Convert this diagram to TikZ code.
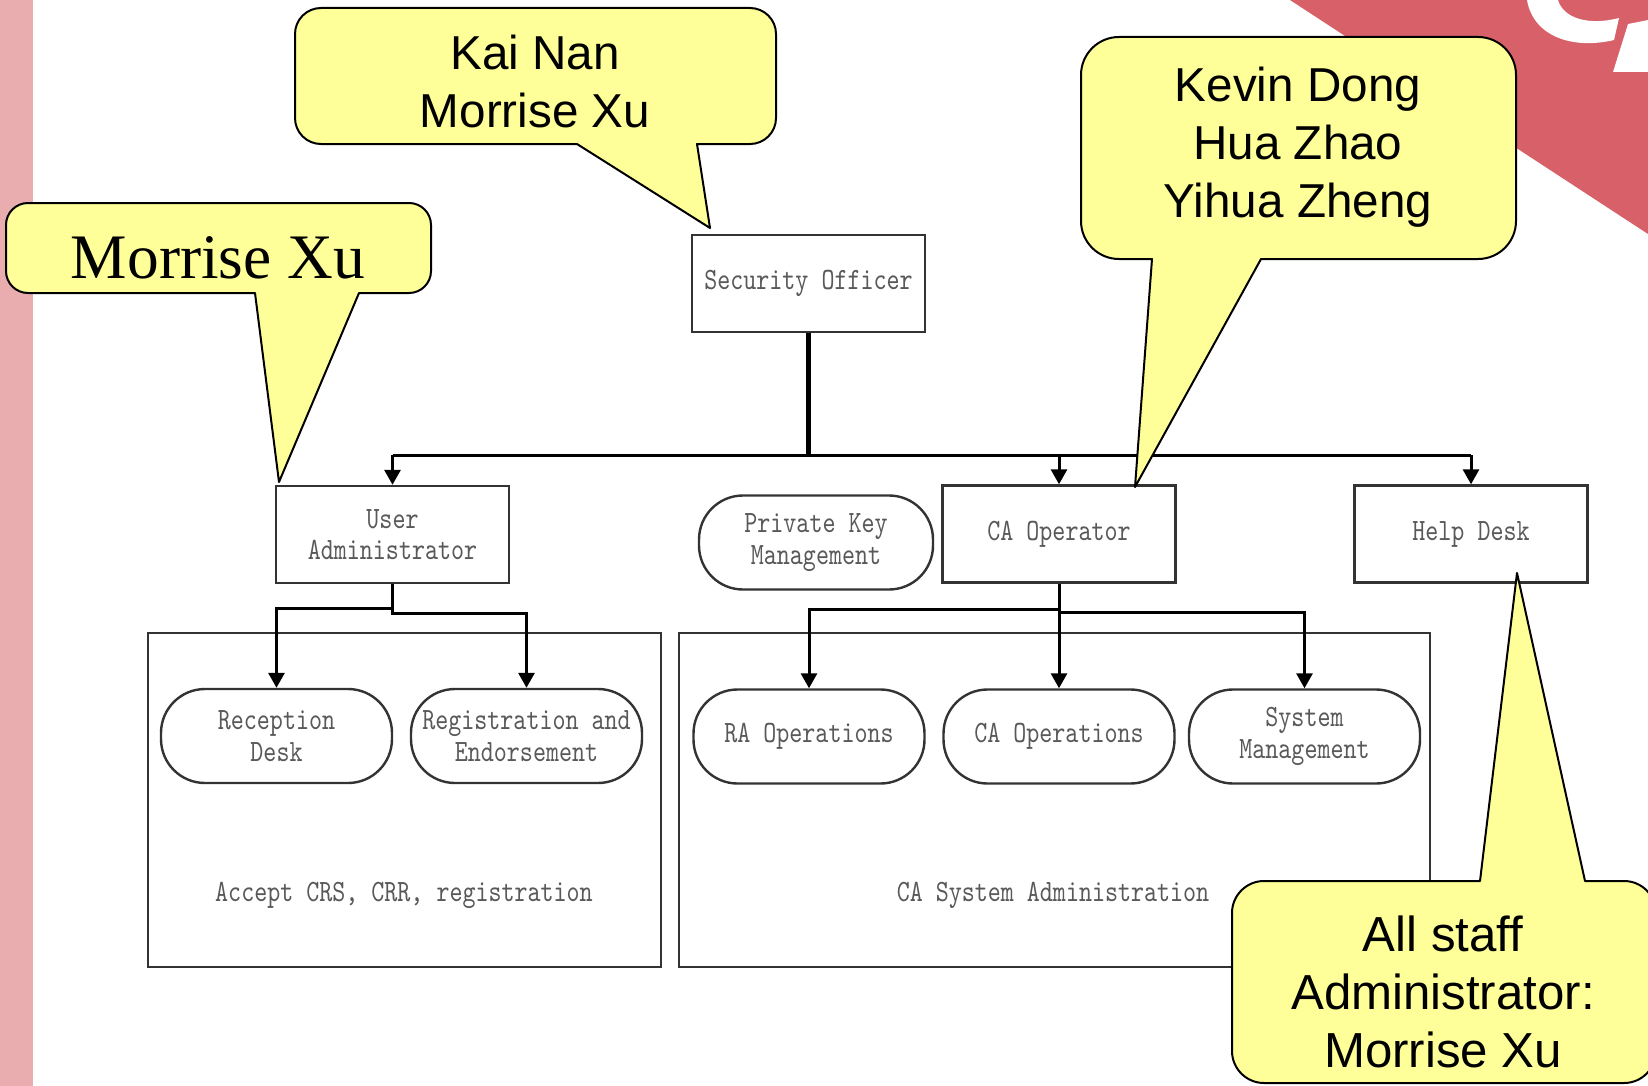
\documentclass[tikz,border=0pt]{standalone}
\usepackage{fontspec}
\newfontfamily\calloutfont{Liberation Sans}
\newfontfamily\romanfont{Liberation Serif}
\newfontfamily\boxfamily{lmmono10-regular.otf}[FakeStretch=0.8]
\usetikzlibrary{arrows.meta}
\definecolor{notefill}{RGB}{255,255,153}
\definecolor{bandred}{RGB}{216,96,104}
\definecolor{stripink}{RGB}{233,172,175}
\newcommand{\boxfont}{\boxfamily\fontsize{15.5}{15.8}\selectfont}
\tikzset{
  box/.style={draw=black!80, line width=1.2pt, inner sep=0pt, minimum width=116.5pt, minimum height=48.5pt, align=center, text=black!65, font=\boxfont},
  pill/.style={box, rounded corners=22pt, minimum width=115.5pt, minimum height=47pt},
  panel/.style={draw=black!80, line width=1.1pt, inner sep=0pt, minimum width=#1, minimum height=167pt},
  paneltext/.style={text=black!65, font=\boxfont},
  wire/.style={black, line width=1.5pt},
  arr/.style={wire, -{Triangle[length=7.5pt,width=8pt]}},
  bubble/.style={fill=notefill, draw=black, line width=1pt, line join=round},
  note/.style={font=\calloutfont\fontsize{23.8}{29}\selectfont, align=center}
}
\begin{document}
\begin{tikzpicture}[x=0.5pt,y=-0.5pt]
\clip (0,0) rectangle (1648,1086);
\fill[white] (0,0) rectangle (1648,1086);
\fill[stripink] (0,0) rectangle (33,1086);
\fill[bandred] (1290,0) -- (1648,0) -- (1648,234) -- cycle;
\fill[white] (1527,0) .. controls (1533,36) and (1572,50) .. (1614,40) -- (1619,18) .. controls (1588,26) and (1563,18) .. (1558,0) -- cycle;
\fill[white] (1628,24) -- (1648,20) -- (1648,72) -- (1613,72) -- cycle;

\node[panel=256.5pt] (accpanel) at (404.5,800) {};
\node[panel=375.5pt] (sysadmin) at (1054.5,800) {};
\node[paneltext] (acctext) at (404,895) {Accept CRS, CRR, registration};
\node[paneltext] (admtext) at (1053,895) {CA System Administration};

\node[box] (sec) at (808.5,283.5) {Security Officer};
\node[box] (user) at (392.5,534.5) {User\\Administrator};
\node[pill, minimum width=117pt] (pkm) at (816,542.5) {Private Key\\Management};
\node[box] (caop) at (1059,534) {CA Operator};
\node[box] (help) at (1471,534) {Help Desk};
\node[pill] (recep) at (276.5,736) {Reception\\Desk};
\node[pill] (regist) at (526.5,736) {Registration and\\Endorsement};
\node[pill] (raop) at (809,736.5) {RA Operations};
\node[pill] (caops) at (1059,736.5) {CA Operations};
\node[pill] (sysm) at (1304.5,736.5) {System\\Management};

\coordinate (bus) at (808.5,455);
\draw[wire, line width=2.3pt] (sec.south) -- (bus);
\draw[wire] (user.north |- bus) -- (help.north |- bus);
\draw[arr] (user.north |- bus) -- (user.north);
\draw[arr] (caop.north |- bus) -- (caop.north);
\draw[arr] (help.north |- bus) -- (help.north);
\draw[arr] (user.south) -- ++(0,24) -| (recep.north);
\draw[arr] (user.south) -- ++(0,29) -| (regist.north);
\draw[arr] (caop.south) -- ++(0,26) -| (raop.north);
\draw[arr] (caop.south) -- (caops.north);
\draw[arr] (caop.south) -- ++(0,29) -| (sysm.north);

\filldraw[bubble] (279,482) -- (359,293) [rounded corners=11pt] -- (431,293) -- (431,203) -- (6,203) -- (6,293) [sharp corners] -- (255,293) -- cycle;
\node[font=\romanfont\fontsize{31.7}{36}\selectfont] (xunote) at (218,258) {Morrise Xu};

\filldraw[bubble] (710,228) -- (697,144) [rounded corners=13pt] -- (776,144) -- (776,8) -- (295,8) -- (295,144) [sharp corners] -- (577,144) -- cycle;
\node[note] (secnote) at (535,81) {Kai Nan\\Morrise Xu};

\filldraw[bubble] (1135,487) -- (1261,259) [rounded corners=19pt] -- (1516,259) -- (1516,37) -- (1081,37) -- (1081,259) [sharp corners] -- (1152,259) -- cycle;
\node[note] (opnote) at (1298,147) {Kevin Dong\\Hua Zhao\\Yihua Zheng};

\filldraw[bubble] (1517,573) -- (1585,881) [rounded corners=16pt] -- (1656,881) -- (1656,1083) -- (1232,1083) -- (1232,881) [sharp corners] -- (1480,881) -- cycle;
\node[note, font=\calloutfont\fontsize{24.6}{29}\selectfont] (helpnote) at (1443,992) {All staff\\Administrator:\\Morrise Xu};
\end{tikzpicture}
\end{document}
